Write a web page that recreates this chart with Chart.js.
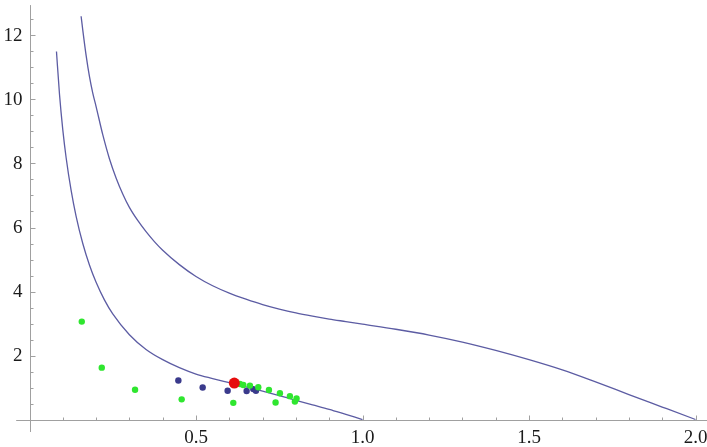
<!DOCTYPE html>
<html>
<head>
<meta charset="utf-8">
<script src="https://cdn.jsdelivr.net/npm/chart.js@4.4.1/dist/chart.umd.min.js"></script>
<style>
  html, body { margin: 0; padding: 0; background: #fff; }
  canvas { display: block; }
</style>
</head>
<body>
<canvas id="plot" width="707" height="447"></canvas>
<script>
// values
const lowerX = [0.081, 0.090, 0.100, 0.110, 0.125, 0.140, 0.160, 0.180, 0.200, 0.225, 0.250, 0.300, 0.350, 0.400, 0.450, 0.500, 0.550, 0.600, 0.650, 0.700, 0.750, 0.800, 0.850, 0.900, 0.950, 1.000];
const lowerY = [11.50, 10.17, 9.05, 8.18, 7.16, 6.35, 5.50, 4.83, 4.29, 3.74, 3.30, 2.65, 2.19, 1.87, 1.62, 1.42, 1.28, 1.15, 1.02, 0.89, 0.75, 0.60, 0.46, 0.32, 0.16, 0.00];

const upperX = [0.155, 0.160, 0.170, 0.180, 0.190, 0.200, 0.220, 0.240, 0.260, 0.280, 0.300, 0.325, 0.350, 0.375, 0.400, 0.450, 0.500, 0.550, 0.600, 0.650, 0.700, 0.750, 0.800, 0.850, 0.900, 0.950, 1.000, 1.100, 1.200, 1.300, 1.400, 1.500, 1.600, 1.700, 1.800, 1.900, 2.000];
const upperY = [12.60, 12.17, 11.38, 10.72, 10.20, 9.78, 8.90, 8.15, 7.55, 7.05, 6.63, 6.22, 5.87, 5.56, 5.29, 4.84, 4.47, 4.18, 3.95, 3.76, 3.59, 3.45, 3.33, 3.23, 3.14, 3.06, 2.98, 2.82, 2.64, 2.42, 2.16, 1.87, 1.55, 1.175, 0.78, 0.39, 0.00];

const greenX = [0.157, 0.217, 0.317, 0.457, 0.612, 0.632, 0.642, 0.662, 0.687, 0.719, 0.752, 0.739, 0.782, 0.802, 0.797];
const greenY = [3.06, 1.62, 0.93, 0.63, 0.52, 1.11, 1.08, 1.06, 1.01, 0.92, 0.82, 0.53, 0.73, 0.66, 0.56];

const blueX = [0.447, 0.520, 0.595, 0.652, 0.672, 0.680];
const blueY = [1.22, 1.00, 0.90, 0.89, 0.95, 0.90];

const redX = [0.615];
const redY = [1.14];

const xMajorTicks = [0.5, 1.0, 1.5, 2.0];
const xTickLabels = ["0.5", "1.0", "1.5", "2.0"];
const yMajorTicks = [2, 4, 6, 8, 10, 12];
const yTickLabels = ["2", "4", "6", "8", "10", "12"];
const xMinorTicks = [0.1, 0.2, 0.3, 0.4, 0.6, 0.7, 0.8, 0.9, 1.1, 1.2, 1.3, 1.4, 1.6, 1.7, 1.8, 1.9];
const yMinorTicks = [0.5, 1, 1.5, 2.5, 3, 3.5, 4.5, 5, 5.5, 6.5, 7, 7.5, 8.5, 9, 9.5, 10.5, 11, 11.5, 12.5];

const labelFont = '19px "Liberation Serif", serif';

function toPoints(xs, ys) {
  return xs.map((x, i) => ({ x: x, y: ys[i] }));
}

// Mathematica-like axes crossing at the origin, drawn from the chart's scales
const crossAxes = {
  id: "crossAxes",
  beforeDatasetsDraw(chart) {
    const ctx = chart.ctx;
    const sx = chart.scales.x;
    const sy = chart.scales.y;
    const x0 = Math.round(sx.getPixelForValue(0)) + 0.5;
    const y0 = Math.round(sy.getPixelForValue(0)) + 0.5;

    ctx.save();
    ctx.strokeStyle = "#a0a0a0";
    ctx.lineWidth = 1;
    ctx.beginPath();
    ctx.moveTo(sx.getPixelForValue(-0.04), y0);
    ctx.lineTo(sx.getPixelForValue(2.04), y0);
    ctx.moveTo(x0, sy.getPixelForValue(-0.39));
    ctx.lineTo(x0, sy.getPixelForValue(12.95));

    // ticks point into the plot
    xMajorTicks.forEach(v => {
      const p = Math.round(sx.getPixelForValue(v)) + 0.5;
      ctx.moveTo(p, y0); ctx.lineTo(p, y0 - 5);
    });
    xMinorTicks.forEach(v => {
      const p = Math.round(sx.getPixelForValue(v)) + 0.5;
      ctx.moveTo(p, y0); ctx.lineTo(p, y0 - 3);
    });
    yMajorTicks.forEach(v => {
      const p = Math.round(sy.getPixelForValue(v)) + 0.5;
      ctx.moveTo(x0, p); ctx.lineTo(x0 + 5, p);
    });
    yMinorTicks.forEach(v => {
      const p = Math.round(sy.getPixelForValue(v)) + 0.5;
      ctx.moveTo(x0, p); ctx.lineTo(x0 + 3, p);
    });
    ctx.stroke();
    ctx.restore();

    // tick labels
    ctx.save();
    ctx.font = labelFont;
    ctx.fillStyle = "#1a1a1a";
    ctx.textAlign = "center";
    ctx.textBaseline = "top";
    xMajorTicks.forEach((v, i) => {
      ctx.fillText(xTickLabels[i], sx.getPixelForValue(v), y0 + 8);
    });
    ctx.textAlign = "right";
    ctx.textBaseline = "middle";
    yMajorTicks.forEach((v, i) => {
      ctx.fillText(yTickLabels[i], x0 - 8, sy.getPixelForValue(v) + 1);
    });
    ctx.restore();
  }
};

const curveColor = "#5c5ca3";

new Chart(document.getElementById("plot"), {
  type: "scatter",
  data: {
    datasets: [
      {
        label: "red",
        data: toPoints(redX, redY),
        backgroundColor: "#e60d0d",
        borderWidth: 0,
        pointRadius: 5.5,
        order: 0
      },
      {
        label: "green",
        data: toPoints(greenX, greenY),
        backgroundColor: "#2fe62f",
        borderWidth: 0,
        pointRadius: 3.2,
        order: 1
      },
      {
        label: "blue",
        data: toPoints(blueX, blueY),
        backgroundColor: "#3a3a8c",
        borderWidth: 0,
        pointRadius: 3.2,
        order: 2
      },
      {
        label: "lower",
        data: toPoints(lowerX, lowerY),
        showLine: true,
        borderColor: curveColor,
        borderWidth: 1.3,
        pointRadius: 0,
        cubicInterpolationMode: "monotone",
        order: 3
      },
      {
        label: "upper",
        data: toPoints(upperX, upperY),
        showLine: true,
        borderColor: curveColor,
        borderWidth: 1.3,
        pointRadius: 0,
        cubicInterpolationMode: "monotone",
        order: 4
      }
    ]
  },
  options: {
    responsive: false,
    animation: false,
    layout: { padding: 0, autoPadding: false },
    plugins: {
      legend: { display: false },
      tooltip: { enabled: false }
    },
    scales: {
      x: { type: "linear", min: -0.08859, max: 2.03453, display: false },
      y: { type: "linear", min: -0.859, max: 13.109, display: false }
    }
  },
  plugins: [crossAxes]
});
</script>
</body>
</html>
